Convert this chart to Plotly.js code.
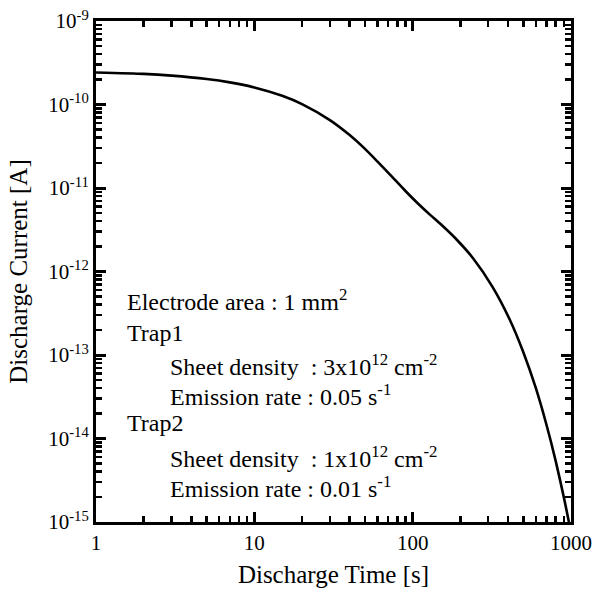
<!DOCTYPE html>
<html>
<head>
<meta charset="utf-8">
<script src="https://cdn.plot.ly/plotly-3.0.1.min.js"></script>
<style>
  html, body { margin: 0; padding: 0; background: #fff; }
  #chart { width: 598px; height: 593px; }
</style>
</head>
<body>
<div id="chart"></div>
<script>
// Discharge time [s]
const timeS = [1, 2, 3, 5, 7, 10, 15, 20, 30, 40, 50, 60, 75, 90, 110, 130, 150, 190, 240, 320, 410, 500, 600, 700, 800, 900, 970];
// Discharge current [A]
const currentA = [2.42e-10, 2.33e-10, 2.22e-10, 2.02e-10, 1.84e-10, 1.60e-10, 1.27e-10, 1.01e-10, 6.5e-11, 4.3e-11, 2.94e-11, 2.07e-11, 1.33e-11, 9.2e-12, 6.3e-12, 4.7e-12, 3.7e-12, 2.4e-12, 1.45e-12, 6.5e-13, 2.66e-13, 1.08e-13, 4.0e-14, 1.46e-14, 5.4e-15, 2.0e-15, 1.0e-15];

const xTickVals = [1, 10, 100, 1000];
const xTickText = ['1', '10', '100', '1000'];
const yTickVals = [1e-15, 1e-14, 1e-13, 1e-12, 1e-11, 1e-10, 1e-9];
const yTickText = ['10<sup>-15</sup>', '10<sup>-14</sup>', '10<sup>-13</sup>', '10<sup>-12</sup>', '10<sup>-11</sup>', '10<sup>-10</sup>', '10<sup>-9</sup>'];

const noteLines = [
  'Electrode area : 1 mm<sup>2</sup>',
  'Trap1',
  'Sheet density  : 3x10<sup>12</sup> cm<sup>-2</sup>',
  'Emission rate : 0.05 s<sup>-1</sup>',
  'Trap2',
  'Sheet density  : 1x10<sup>12</sup> cm<sup>-2</sup>',
  'Emission rate : 0.01 s<sup>-1</sup>'
];
const noteIndent = [false, false, true, true, false, true, true];

const serif = 'Liberation Serif, Times New Roman, serif';

const trace = {
  x: timeS, y: currentA, type: 'scatter', mode: 'lines',
  line: { color: '#000', width: 2.6, shape: 'spline', smoothing: 0.6 },
  hoverinfo: 'x+y', showlegend: false
};

const axisCommon = {
  type: 'log',
  showgrid: false, zeroline: false,
  showline: true, linecolor: '#000', linewidth: 3,
  mirror: 'allticks',
  ticks: 'inside', ticklen: 10, tickwidth: 3, tickcolor: '#000',
  tickfont: { family: serif, size: 21, color: '#000' },
  minor: { ticks: 'inside', ticklen: 6, tickwidth: 2.5, tickcolor: '#000', dtick: 'D1', showgrid: false }
};

const topY = [0.443, 0.377, 0.313, 0.253, 0.198, 0.130, 0.070];
const annotations = noteLines.map((t, i) => ({
  text: t, xref: 'paper', yref: 'paper',
  x: noteIndent[i] ? 0.152 : 0.061, y: topY[i],
  xanchor: 'left', yanchor: 'middle', showarrow: false,
  font: { family: serif, size: 24, color: '#000' }
}));

const layout = {
  width: 598, height: 593,
  margin: { l: 96, r: 27, t: 21, b: 71 },
  paper_bgcolor: '#fff', plot_bgcolor: '#fff',
  xaxis: Object.assign({}, axisCommon, {
    range: [0, 3],
    tickvals: xTickVals, ticktext: xTickText,
    title: { text: 'Discharge Time [s]', font: { family: serif, size: 25, color: '#000' }, standoff: 12 }
  }),
  yaxis: Object.assign({}, axisCommon, {
    range: [-15, -9],
    tickvals: yTickVals, ticktext: yTickText,
    title: { text: 'Discharge Current [A]', font: { family: serif, size: 25, color: '#000' }, standoff: 14 }
  }),
  annotations: annotations
};

Plotly.newPlot('chart', [trace], layout, { displayModeBar: false, staticPlot: true });
</script>
</body>
</html>
